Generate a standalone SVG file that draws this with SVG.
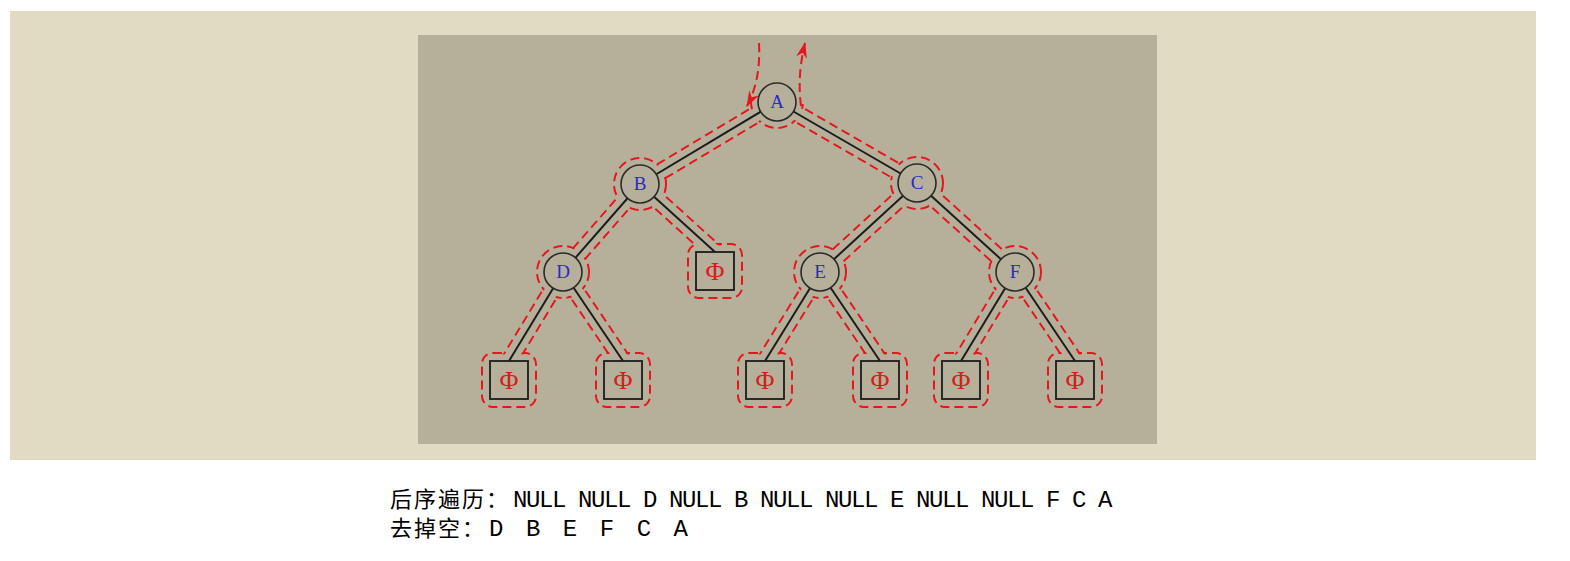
<svg xmlns="http://www.w3.org/2000/svg" width="1570" height="561" viewBox="0 0 1570 561">
<style>
.edge{stroke:#1c1c1c;stroke-width:2;fill:none}
.circ{fill:#B6B09B;stroke:#2a2a2a;stroke-width:1.6}
.box{fill:#B6B09B;stroke:#1c1c1c;stroke-width:1.8}
.lbl{font-family:"Liberation Serif",serif;font-size:19px;fill:#2a2ac8;text-anchor:middle}
.phi{font-family:"Liberation Serif",serif;font-size:26px;fill:#d42020;text-anchor:middle}
.dash{stroke:#e8141e;stroke-width:2;fill:none;stroke-dasharray:9 5}
.cjk{font-family:"Noto Sans CJK SC",sans-serif;font-size:22px;letter-spacing:2px}
.lat{font-family:"Liberation Mono",monospace;font-size:24px;letter-spacing:-1.4px}
.lat2{font-family:"Liberation Mono",monospace;font-size:24px;letter-spacing:-2.1px}
.txt{fill:#000;white-space:pre}
</style>
<defs>
<marker id="arr" viewBox="0 0 16 11" refX="15" refY="5.5" markerWidth="16" markerHeight="11" markerUnits="userSpaceOnUse" orient="auto">
<path d="M0,0 L16,5.5 L0,11 L5,5.5 Z" fill="#e8141e"/>
</marker>
<mask id="m" maskUnits="userSpaceOnUse" x="0" y="0" width="1570" height="561">
<rect x="0" y="0" width="1570" height="561" fill="#fff"/>
<g stroke="#000" stroke-width="13.5" fill="none">
<line x1="777" y1="102" x2="640" y2="184"/>
<line x1="777" y1="102" x2="917" y2="183"/>
<line x1="640" y1="184" x2="563" y2="272"/>
<line x1="640" y1="184" x2="715" y2="252"/>
<line x1="917" y1="183" x2="820" y2="272"/>
<line x1="917" y1="183" x2="1015" y2="272"/>
<line x1="563" y1="272" x2="509" y2="361"/>
<line x1="563" y1="272" x2="623" y2="361"/>
<line x1="820" y1="272" x2="765" y2="361"/>
<line x1="820" y1="272" x2="880" y2="361"/>
<line x1="1015" y1="272" x2="961" y2="361"/>
<line x1="1015" y1="272" x2="1075" y2="361"/>
</g>
<g fill="#000">
<circle cx="777" cy="102" r="24.5"/>
<circle cx="640" cy="184" r="24.5"/>
<circle cx="917" cy="183" r="24.5"/>
<circle cx="563" cy="272" r="24.5"/>
<circle cx="820" cy="272" r="24.5"/>
<circle cx="1015" cy="272" r="24.5"/>
<rect x="689.5" y="245.5" width="51" height="51" rx="9.5"/>
<rect x="483.5" y="354.5" width="51" height="51" rx="9.5"/>
<rect x="597.5" y="354.5" width="51" height="51" rx="9.5"/>
<rect x="739.5" y="354.5" width="51" height="51" rx="9.5"/>
<rect x="854.5" y="354.5" width="51" height="51" rx="9.5"/>
<rect x="935.5" y="354.5" width="51" height="51" rx="9.5"/>
<rect x="1049.5" y="354.5" width="51" height="51" rx="9.5"/>
</g>
</mask>
</defs>
<rect x="10" y="11" width="1526" height="449" fill="#E2DBC3"/>
<rect x="418" y="35" width="739" height="409" fill="#B6B09B"/>

<g id="traversal">
<g class="dash" mask="url(#m)">
<line x1="772.9" y1="95.1" x2="635.9" y2="177.1"/>
<line x1="781.1" y1="108.9" x2="644.1" y2="190.9"/>
<line x1="773" y1="108.9" x2="913" y2="189.9"/>
<line x1="781" y1="95.1" x2="921" y2="176.1"/>
<line x1="634" y1="178.7" x2="557" y2="266.7"/>
<line x1="646" y1="189.3" x2="569" y2="277.3"/>
<line x1="634.6" y1="189.9" x2="709.6" y2="257.9"/>
<line x1="645.4" y1="178.1" x2="720.4" y2="246.1"/>
<line x1="911.6" y1="177.1" x2="814.6" y2="266.1"/>
<line x1="922.4" y1="188.9" x2="825.4" y2="277.9"/>
<line x1="911.6" y1="188.9" x2="1009.6" y2="277.9"/>
<line x1="922.4" y1="177.1" x2="1020.4" y2="266.1"/>
<line x1="556.2" y1="267.9" x2="502.2" y2="356.9"/>
<line x1="569.8" y1="276.2" x2="515.8" y2="365.2"/>
<line x1="556.4" y1="276.5" x2="616.4" y2="365.5"/>
<line x1="569.6" y1="267.5" x2="629.6" y2="356.5"/>
<line x1="813.2" y1="267.8" x2="758.2" y2="356.8"/>
<line x1="826.8" y1="276.2" x2="771.8" y2="365.2"/>
<line x1="813.4" y1="276.5" x2="873.4" y2="365.5"/>
<line x1="826.6" y1="267.5" x2="886.6" y2="356.5"/>
<line x1="1008.2" y1="267.9" x2="954.2" y2="356.9"/>
<line x1="1021.8" y1="276.2" x2="967.8" y2="365.2"/>
<line x1="1008.4" y1="276.5" x2="1068.4" y2="365.5"/>
<line x1="1021.6" y1="267.5" x2="1081.6" y2="356.5"/>
<path d="M751,102 A26,26 0 0 0 803,102"/>
<circle cx="640" cy="184" r="26"/>
<circle cx="917" cy="183" r="26"/>
<circle cx="563" cy="272" r="26"/>
<circle cx="820" cy="272" r="26"/>
<circle cx="1015" cy="272" r="26"/>
<rect x="688" y="244" width="54" height="54" rx="11"/>
<rect x="482" y="353" width="54" height="54" rx="11"/>
<rect x="596" y="353" width="54" height="54" rx="11"/>
<rect x="738" y="353" width="54" height="54" rx="11"/>
<rect x="853" y="353" width="54" height="54" rx="11"/>
<rect x="934" y="353" width="54" height="54" rx="11"/>
<rect x="1048" y="353" width="54" height="54" rx="11"/>
</g>
<path class="dash" d="M759,43 Q761,80 747,106" marker-end="url(#arr)"/>
<path class="dash" d="M801,106 Q797,76 805,43" marker-end="url(#arr)"/>
</g>

<g id="connectors">
<line class="edge" x1="777" y1="102" x2="640" y2="184"/>
<line class="edge" x1="777" y1="102" x2="917" y2="183"/>
<line class="edge" x1="640" y1="184" x2="563" y2="272"/>
<line class="edge" x1="640" y1="184" x2="715" y2="252"/>
<line class="edge" x1="917" y1="183" x2="820" y2="272"/>
<line class="edge" x1="917" y1="183" x2="1015" y2="272"/>
<line class="edge" x1="563" y1="272" x2="509" y2="361"/>
<line class="edge" x1="563" y1="272" x2="623" y2="361"/>
<line class="edge" x1="820" y1="272" x2="765" y2="361"/>
<line class="edge" x1="820" y1="272" x2="880" y2="361"/>
<line class="edge" x1="1015" y1="272" x2="961" y2="361"/>
<line class="edge" x1="1015" y1="272" x2="1075" y2="361"/>
</g>

<g id="node-A"><circle class="circ" cx="777" cy="102" r="19"/><text class="lbl" x="777" y="108">A</text></g>
<g id="node-B"><circle class="circ" cx="640" cy="184" r="19"/><text class="lbl" x="640" y="190">B</text></g>
<g id="node-C"><circle class="circ" cx="917" cy="183" r="19"/><text class="lbl" x="917" y="189">C</text></g>
<g id="node-D"><circle class="circ" cx="563" cy="272" r="19"/><text class="lbl" x="563" y="278">D</text></g>
<g id="node-E"><circle class="circ" cx="820" cy="272" r="19"/><text class="lbl" x="820" y="278">E</text></g>
<g id="node-F"><circle class="circ" cx="1015" cy="272" r="19"/><text class="lbl" x="1015" y="278">F</text></g>
<g id="null-B-right"><rect class="box" x="696" y="252" width="38" height="38"/><text class="phi" x="715" y="280">Φ</text></g>
<g id="null-D-left"><rect class="box" x="490" y="361" width="38" height="38"/><text class="phi" x="509" y="389">Φ</text></g>
<g id="null-D-right"><rect class="box" x="604" y="361" width="38" height="38"/><text class="phi" x="623" y="389">Φ</text></g>
<g id="null-E-left"><rect class="box" x="746" y="361" width="38" height="38"/><text class="phi" x="765" y="389">Φ</text></g>
<g id="null-E-right"><rect class="box" x="861" y="361" width="38" height="38"/><text class="phi" x="880" y="389">Φ</text></g>
<g id="null-F-left"><rect class="box" x="942" y="361" width="38" height="38"/><text class="phi" x="961" y="389">Φ</text></g>
<g id="null-F-right"><rect class="box" x="1056" y="361" width="38" height="38"/><text class="phi" x="1075" y="389">Φ</text></g>

<g id="caption" class="txt">
<text y="507" xml:space="preserve"><tspan class="cjk" x="390">后序遍历：</tspan><tspan class="lat" x="513">NULL NULL D NULL B NULL NULL E NULL NULL F C A</tspan></text>
<text y="536" xml:space="preserve"><tspan class="cjk" x="390">去掉空：</tspan><tspan class="lat2" x="489">D  B  E  F  C  A</tspan></text>
</g>
</svg>
